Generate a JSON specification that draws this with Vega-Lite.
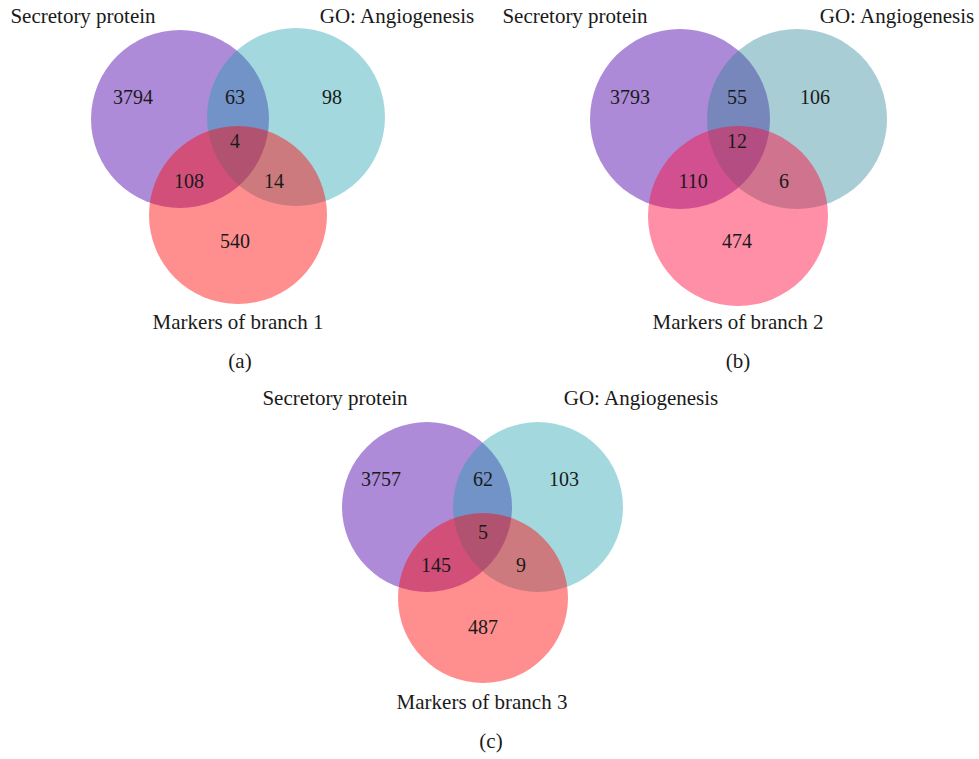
{
  "$schema": "https://vega.github.io/schema/vega-lite/v6.json",
  "autosize": {"type": "fit", "contains": "padding"},
  "width": 979,
  "height": 759,
  "padding": 0,
  "background": "white",
  "config": {"view": {"stroke": null}},
  "datasets": {
    "circles": [
      {"panel": "a", "set": "Secretory protein", "key": "a-P", "cx": 180, "cy": 119, "r": 89},
      {"panel": "a", "set": "GO: Angiogenesis", "key": "a-T", "cx": 296, "cy": 117, "r": 89},
      {"panel": "a", "set": "Markers", "key": "a-M", "cx": 238, "cy": 215, "r": 89},
      {"panel": "b", "set": "Secretory protein", "key": "b-P", "cx": 680, "cy": 119, "r": 90},
      {"panel": "b", "set": "GO: Angiogenesis", "key": "b-T", "cx": 797, "cy": 119, "r": 90},
      {"panel": "b", "set": "Markers", "key": "b-M", "cx": 738, "cy": 216, "r": 90},
      {"panel": "c", "set": "Secretory protein", "key": "c-P", "cx": 427, "cy": 507, "r": 85},
      {"panel": "c", "set": "GO: Angiogenesis", "key": "c-T", "cx": 538, "cy": 507, "r": 85},
      {"panel": "c", "set": "Markers", "key": "c-M", "cx": 483, "cy": 598, "r": 85}
    ],
    "counts": [
      {"panel": "a", "label": "3794", "tx": 133, "ty": 98},
      {"panel": "a", "label": "63", "tx": 235, "ty": 98},
      {"panel": "a", "label": "98", "tx": 332, "ty": 98},
      {"panel": "a", "label": "4", "tx": 235, "ty": 142},
      {"panel": "a", "label": "108", "tx": 189, "ty": 182},
      {"panel": "a", "label": "14", "tx": 274, "ty": 182},
      {"panel": "a", "label": "540", "tx": 235, "ty": 242},
      {"panel": "b", "label": "3793", "tx": 630, "ty": 98},
      {"panel": "b", "label": "55", "tx": 737, "ty": 98},
      {"panel": "b", "label": "106", "tx": 815, "ty": 98},
      {"panel": "b", "label": "12", "tx": 737, "ty": 142},
      {"panel": "b", "label": "110", "tx": 693, "ty": 182},
      {"panel": "b", "label": "6", "tx": 784, "ty": 182},
      {"panel": "b", "label": "474", "tx": 737, "ty": 242},
      {"panel": "c", "label": "3757", "tx": 381, "ty": 480},
      {"panel": "c", "label": "62", "tx": 483, "ty": 480},
      {"panel": "c", "label": "103", "tx": 564, "ty": 480},
      {"panel": "c", "label": "5", "tx": 483, "ty": 533},
      {"panel": "c", "label": "145", "tx": 436, "ty": 566},
      {"panel": "c", "label": "9", "tx": 521, "ty": 566},
      {"panel": "c", "label": "487", "tx": 483, "ty": 628}
    ],
    "titles": [
      {"panel": "a", "label": "Secretory protein", "tx": 83, "ty": 17},
      {"panel": "a", "label": "GO: Angiogenesis", "tx": 397, "ty": 17},
      {"panel": "a", "label": "Markers of branch 1", "tx": 238, "ty": 323},
      {"panel": "a", "label": "(a)", "tx": 240, "ty": 362},
      {"panel": "b", "label": "Secretory protein", "tx": 575, "ty": 17},
      {"panel": "b", "label": "GO: Angiogenesis", "tx": 897, "ty": 17},
      {"panel": "b", "label": "Markers of branch 2", "tx": 738, "ty": 323},
      {"panel": "b", "label": "(b)", "tx": 738, "ty": 362},
      {"panel": "c", "label": "Secretory protein", "tx": 335, "ty": 399},
      {"panel": "c", "label": "GO: Angiogenesis", "tx": 641, "ty": 399},
      {"panel": "c", "label": "Markers of branch 3", "tx": 482, "ty": 703},
      {"panel": "c", "label": "(c)", "tx": 491, "ty": 742}
    ]
  },
  "layer": [
    {
      "data": {"name": "circles"},
      "mark": {"type": "point", "shape": "circle", "filled": true, "strokeWidth": 0},
      "encoding": {
        "x": {"field": "cx", "type": "quantitative", "scale": {"domain": [0, 979], "nice": false, "zero": false}, "axis": null},
        "y": {"field": "cy", "type": "quantitative", "scale": {"domain": [0, 759], "nice": false, "zero": false, "reverse": true}, "axis": null},
        "size": {"field": "r", "type": "quantitative", "scale": {"type": "pow", "exponent": 2, "domain": [0, 100], "range": [0, 40000]}, "legend": null},
        "color": {
          "field": "key", "type": "nominal", "legend": null,
          "scale": {
            "domain": ["a-P", "a-T", "a-M", "b-P", "b-T", "b-M", "c-P", "c-T", "c-M"],
            "range": ["#ae8bd9", "#19a0ac", "#ff0707", "#ad8ad8", "#258293", "#ff073a", "#ae8bd9", "#19a0ac", "#ff0707"]
          }
        },
        "opacity": {
          "field": "set", "type": "nominal", "legend": null,
          "scale": {"type": "ordinal", "domain": ["Secretory protein", "GO: Angiogenesis", "Markers"], "range": [1, 0.4, 0.45]}
        }
      }
    },
    {
      "data": {"name": "counts"},
      "mark": {"type": "text", "font": "Liberation Serif", "fontSize": 20, "color": "#1a1a1a", "baseline": "middle", "align": "center"},
      "encoding": {
        "x": {"field": "tx", "type": "quantitative"},
        "y": {"field": "ty", "type": "quantitative"},
        "text": {"field": "label"}
      }
    },
    {
      "data": {"name": "titles"},
      "mark": {"type": "text", "font": "Liberation Serif", "fontSize": 21, "color": "#1a1a1a", "baseline": "middle", "align": "center"},
      "encoding": {
        "x": {"field": "tx", "type": "quantitative"},
        "y": {"field": "ty", "type": "quantitative"},
        "text": {"field": "label"}
      }
    }
  ]
}
